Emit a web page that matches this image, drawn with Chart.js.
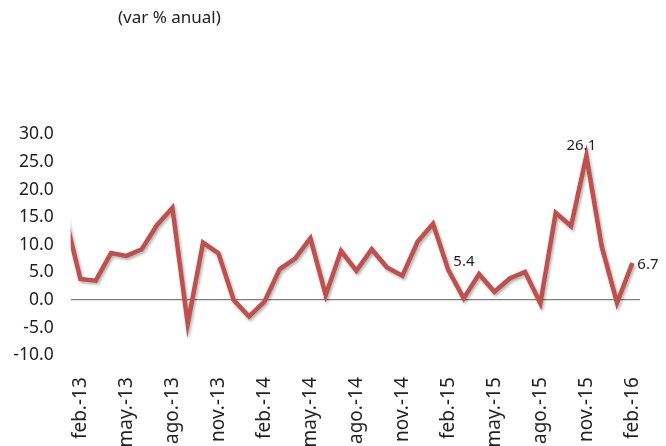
<!DOCTYPE html>
<html>
<head>
<meta charset="utf-8">
<script src="https://cdn.jsdelivr.net/npm/chart.js@4/dist/chart.umd.min.js"></script>
<style>
  html, body { margin: 0; padding: 0; background: #fff; }
  canvas { display: block; }
</style>
</head>
<body>
<canvas id="varChart" width="666" height="446"></canvas>
<script>
// monthly series, ene-13 .. feb-16 (first point sits just outside the plot, as in the source)
const months = [
  'ene.-13', 'feb.-13', 'mar.-13', 'abr.-13', 'may.-13', 'jun.-13', 'jul.-13', 'ago.-13', 'sep.-13', 'oct.-13', 'nov.-13', 'dic.-13',
  'ene.-14', 'feb.-14', 'mar.-14', 'abr.-14', 'may.-14', 'jun.-14', 'jul.-14', 'ago.-14', 'sep.-14', 'oct.-14', 'nov.-14', 'dic.-14',
  'ene.-15', 'feb.-15', 'mar.-15', 'abr.-15', 'may.-15', 'jun.-15', 'jul.-15', 'ago.-15', 'sep.-15', 'oct.-15', 'nov.-15', 'dic.-15',
  'ene.-16', 'feb.-16'
];
const values = [
  15.2, 3.8, 3.5, 8.5, 8.0, 9.2, 13.6, 16.7, -4.3, 10.4, 8.5, 0.0,
  -3.0, -0.3, 5.6, 7.5, 11.2, 0.9, 8.9, 5.3, 9.2, 5.9, 4.4, 10.6,
  13.8, 5.4, 0.3, 4.7, 1.5, 3.9, 5.1, -0.6, 15.8, 13.4, 26.1, 9.7,
  -0.5, 6.7
];
// every third month gets a tick label
const tickMonths = ['feb.-13', 'may.-13', 'ago.-13', 'nov.-13', 'feb.-14', 'may.-14', 'ago.-14', 'nov.-14', 'feb.-15', 'may.-15', 'ago.-15', 'nov.-15', 'feb.-16'];
const yTicks = [-10, -5, 0, 5, 10, 15, 20, 25, 30];
// points that carry a value label
const labelled = ['feb.-15', 'nov.-15', 'feb.-16'];
const title = '(var % anual)';

const textColor = '#1f1f1f';
const lineColor = '#C0504D';

const points = values.map((v, i) => ({ x: i, y: v }));

const extras = {
  id: 'extras',
  beforeDatasetsDraw(chart) {
    const ctx = chart.ctx;
    ctx.save();
    ctx.shadowColor = 'rgba(0,0,0,0.3)';
    ctx.shadowBlur = 3;
    ctx.shadowOffsetX = 1.5;
    ctx.shadowOffsetY = 2;
  },
  afterDatasetsDraw(chart) {
    const ctx = chart.ctx;
    ctx.restore();
    const xs = chart.scales.x, ys = chart.scales.y;
    ctx.save();
    ctx.fillStyle = textColor;
    ctx.font = '15px "Noto Sans"';
    labelled.forEach(m => {
      const i = months.indexOf(m);
      const px = xs.getPixelForValue(i);
      const py = ys.getPixelForValue(values[i]);
      const txt = values[i].toFixed(1);
      if (m === 'nov.-15') {
        ctx.textAlign = 'center';
        ctx.textBaseline = 'bottom';
        ctx.fillText(txt, px - 5, py - 3);
      } else {
        ctx.textAlign = 'left';
        ctx.textBaseline = 'middle';
        ctx.fillText(txt, px + 5, m === 'feb.-15' ? py - 8 : py + 2);
      }
    });
    // heading
    ctx.font = '17px "Noto Sans"';
    ctx.textAlign = 'left';
    ctx.textBaseline = 'middle';
    ctx.fillText(title, 118, 18);
    ctx.restore();
  }
};

new Chart(document.getElementById('varChart'), {
  type: 'line',
  data: {
    datasets: [{
      data: points,
      borderColor: lineColor,
      borderWidth: 4.5,
      pointRadius: 0,
      tension: 0,
      borderJoinStyle: 'miter',
      clip: 0
    }]
  },
  options: {
    responsive: false,
    animation: false,
    layout: { padding: { top: 134.4, right: 26, left: 0, bottom: 0 } },
    plugins: { legend: { display: false }, tooltip: { enabled: false } },
    scales: {
      x: {
        type: 'linear',
        min: 0.37,
        max: 37.5,
        afterBuildTicks(scale) {
          scale.ticks = tickMonths.map(m => ({ value: months.indexOf(m) }));
        },
        afterFit(scale) {
          scale.height = 90.8;
          scale.paddingLeft = 0;
          scale.paddingRight = 0;
        },
        grid: { display: false, drawTicks: false },
        border: { display: false },
        ticks: {
          autoSkip: false,
          minRotation: 90,
          maxRotation: 90,
          padding: 22,
          color: textColor,
          font: { family: 'Noto Sans', size: 19 },
          callback: v => months[v]
        }
      },
      y: {
        min: -10,
        max: 30,
        afterBuildTicks(scale) {
          scale.ticks = yTicks.map(v => ({ value: v }));
        },
        afterFit(scale) { scale.width = 70.7; },
        grid: {
          drawTicks: false,
          color: ctx => ctx.tick && ctx.tick.value === 0 ? '#7f7f7f' : 'rgba(0,0,0,0)',
          lineWidth: 1.2
        },
        border: { display: false },
        ticks: {
          padding: 17,
          color: textColor,
          font: { family: 'Noto Sans', size: 17.5 },
          callback: v => v.toFixed(1)
        }
      }
    }
  },
  plugins: [extras]
});
</script>
</body>
</html>
